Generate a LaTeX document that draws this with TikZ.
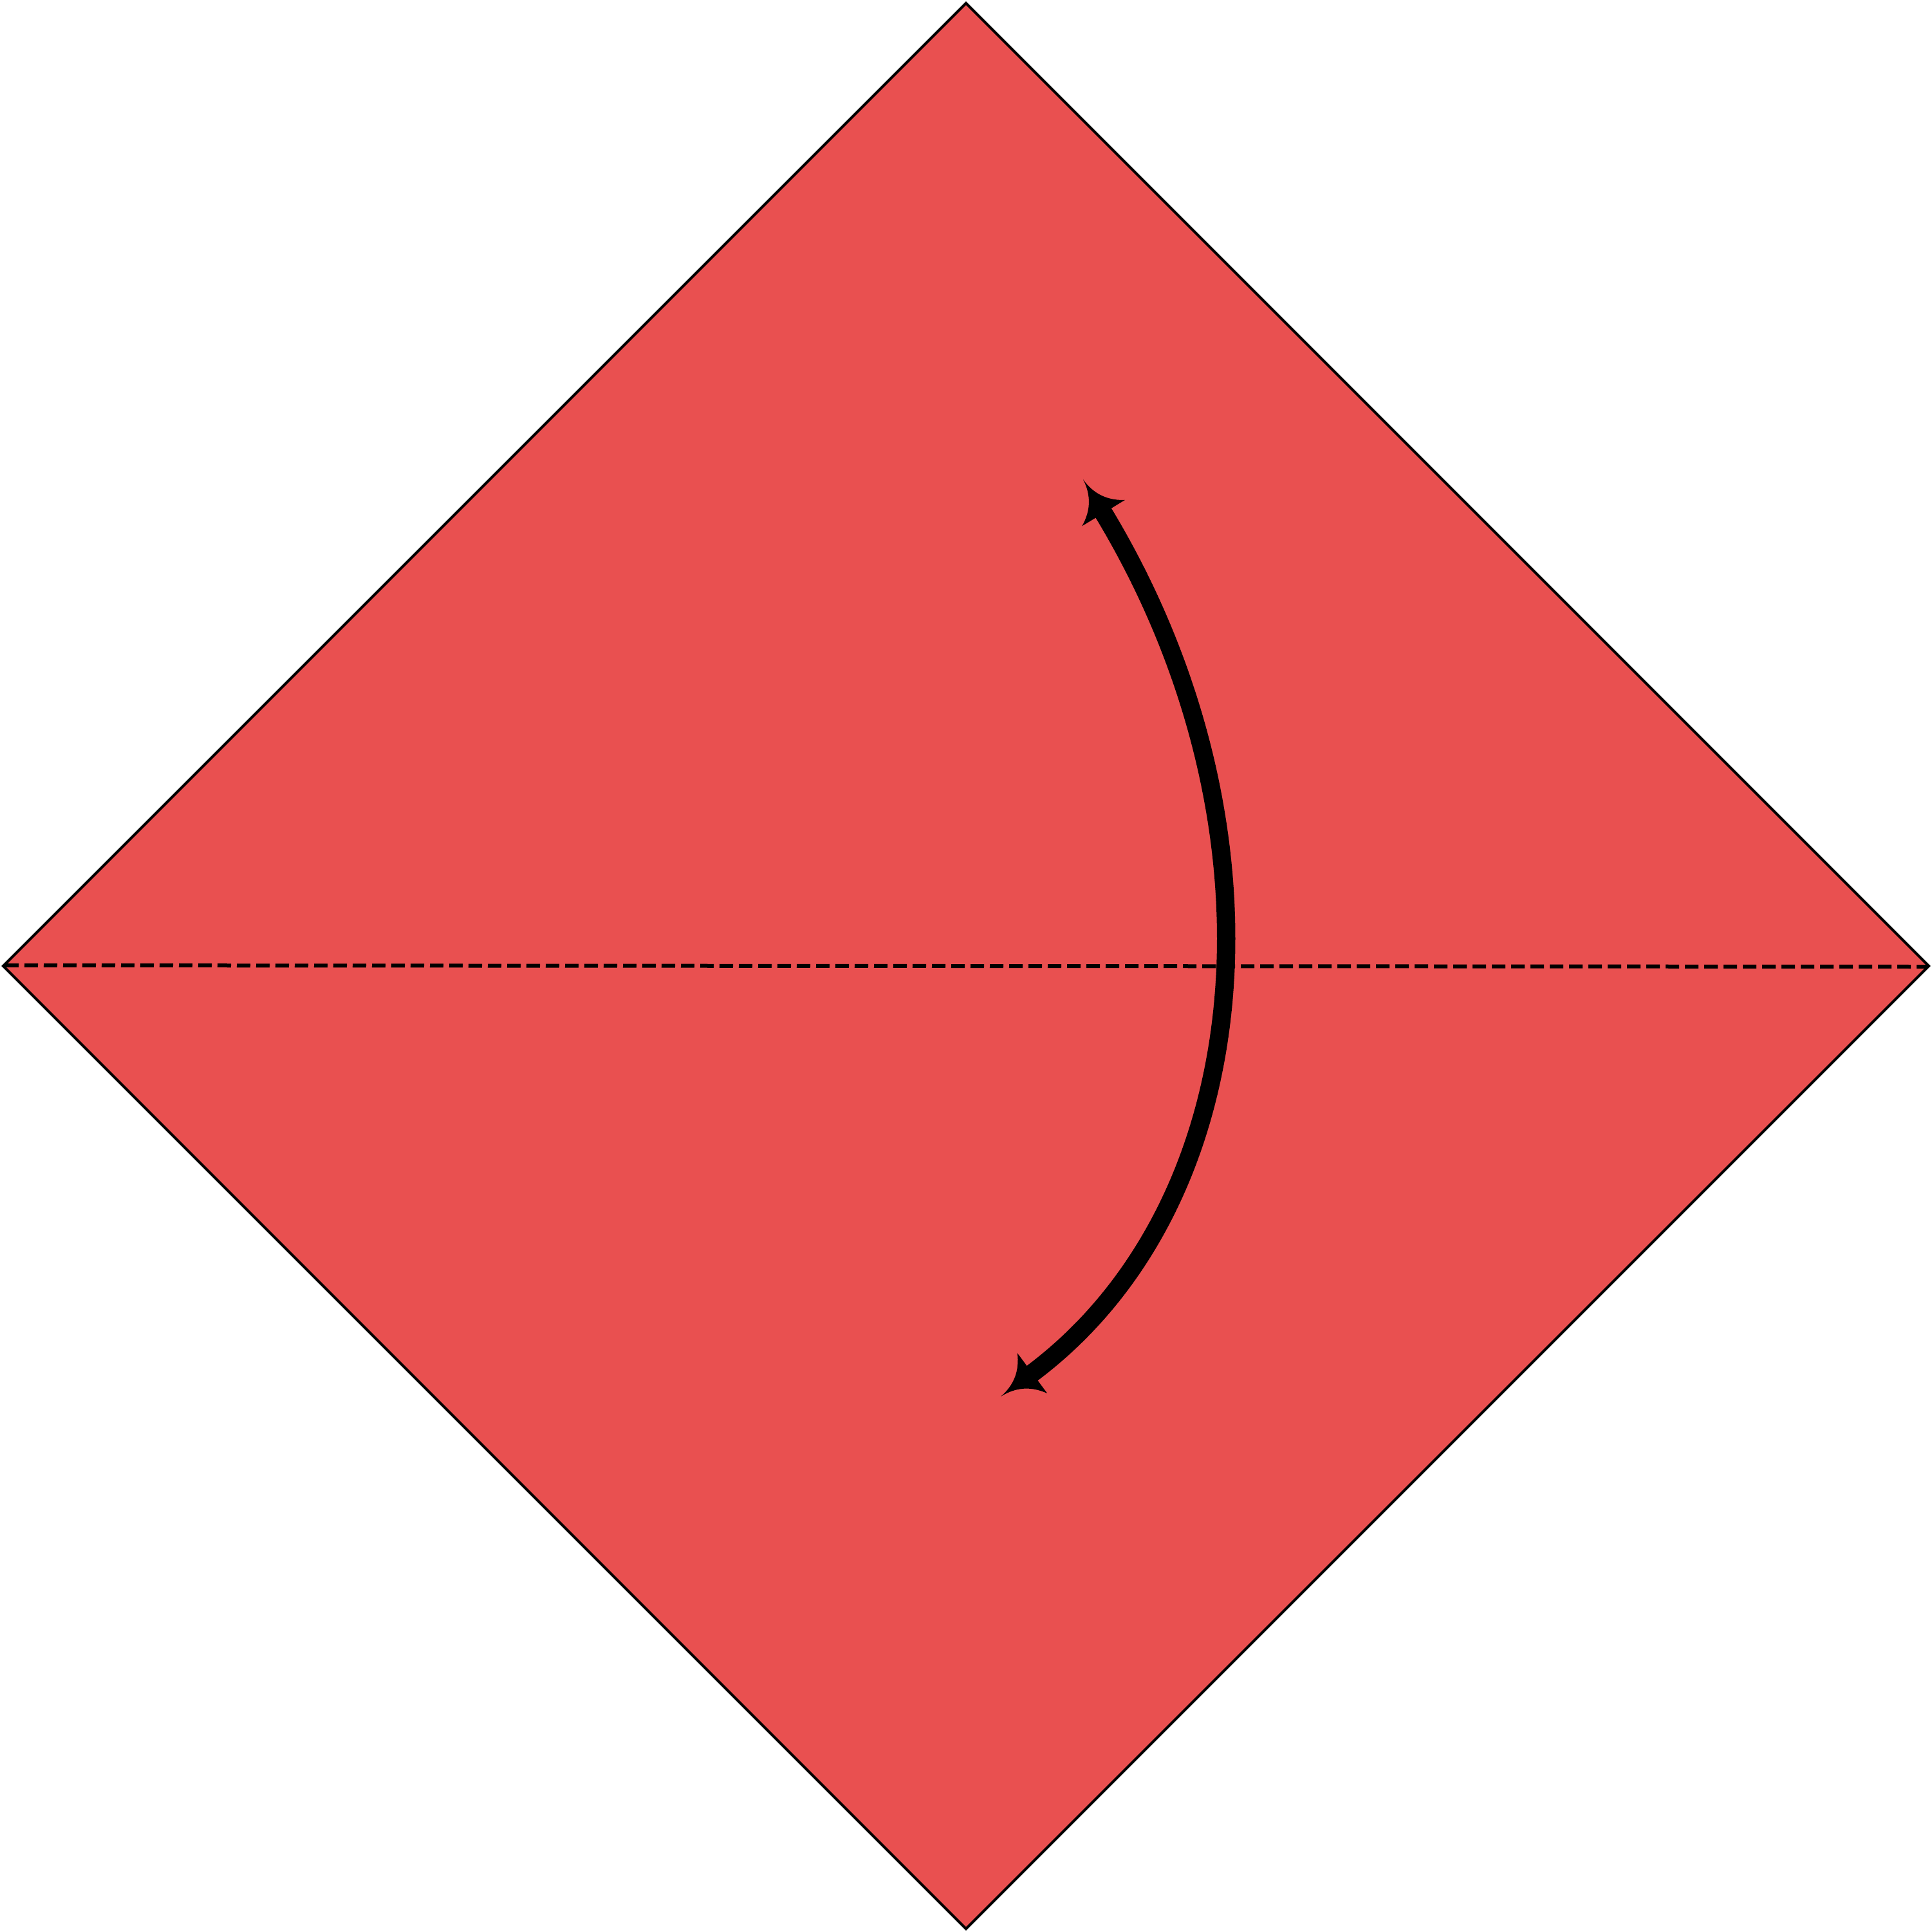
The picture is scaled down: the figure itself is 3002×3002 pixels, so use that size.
\documentclass[tikz,border=0pt]{standalone}
\usetikzlibrary{arrows.meta}
\definecolor{paper}{RGB}{233,80,80}
\pgfdeclarearrow{
  name = Barb,
  setup code = {
    \pgfarrowssettipend{0pt}
    \pgfarrowssetlineend{-5.7mm}
    \pgfarrowssetbackend{-6.1mm}
    \pgfarrowssetvisualbackend{-6.1mm}
    \pgfarrowshullpoint{0pt}{0pt}
    \pgfarrowshullpoint{-6.1mm}{3.9mm}
    \pgfarrowshullpoint{-6.1mm}{-3.9mm}
  },
  drawing code = {
    \pgfpathmoveto{\pgfpointorigin}
    \pgfpathcurveto{\pgfpoint{-2.75mm}{0.2mm}}{\pgfpoint{-4.75mm}{1.5mm}}{\pgfpoint{-6.1mm}{3.9mm}}
    \pgfpathlineto{\pgfpoint{-6.1mm}{-3.9mm}}
    \pgfpathcurveto{\pgfpoint{-4.75mm}{-1.5mm}}{\pgfpoint{-2.75mm}{-0.2mm}}{\pgfpointorigin}
    \pgfpathclose
    \pgfusepathqfill
  },
}
\tikzset{
  sheet/.style={fill=paper, draw=black, line width=0.4mm, line join=miter},
  foldline/.style={draw=black, line width=0.6mm, dash pattern=on 2.1mm off 0.9mm},
  turnarrow/.style={draw=black, line width=2.85mm, {Barb}-{Barb}},
}
\begin{document}
\begin{tikzpicture}[x=0.1mm, y=-0.1mm]
\useasboundingbox (0,0) rectangle (3002,3002);
\coordinate (top) at (1501,5);
\coordinate (right) at (2997,1501);
\coordinate (bottom) at (1501,2997);
\coordinate (left) at (5,1501);
\path[sheet] (top) -- (right) -- (bottom) -- (left) -- cycle;
\coordinate (fl) at (8,1500);
\coordinate (fr) at (2994,1502);
\path[foldline] (fl) -- (fr);
\coordinate (atop) at (1683,745);
\coordinate (abot) at (1555,2170);
\path[turnarrow] (atop) .. controls (2005,1275) and (1962,1868) .. (abot);
\end{tikzpicture}
\end{document}
